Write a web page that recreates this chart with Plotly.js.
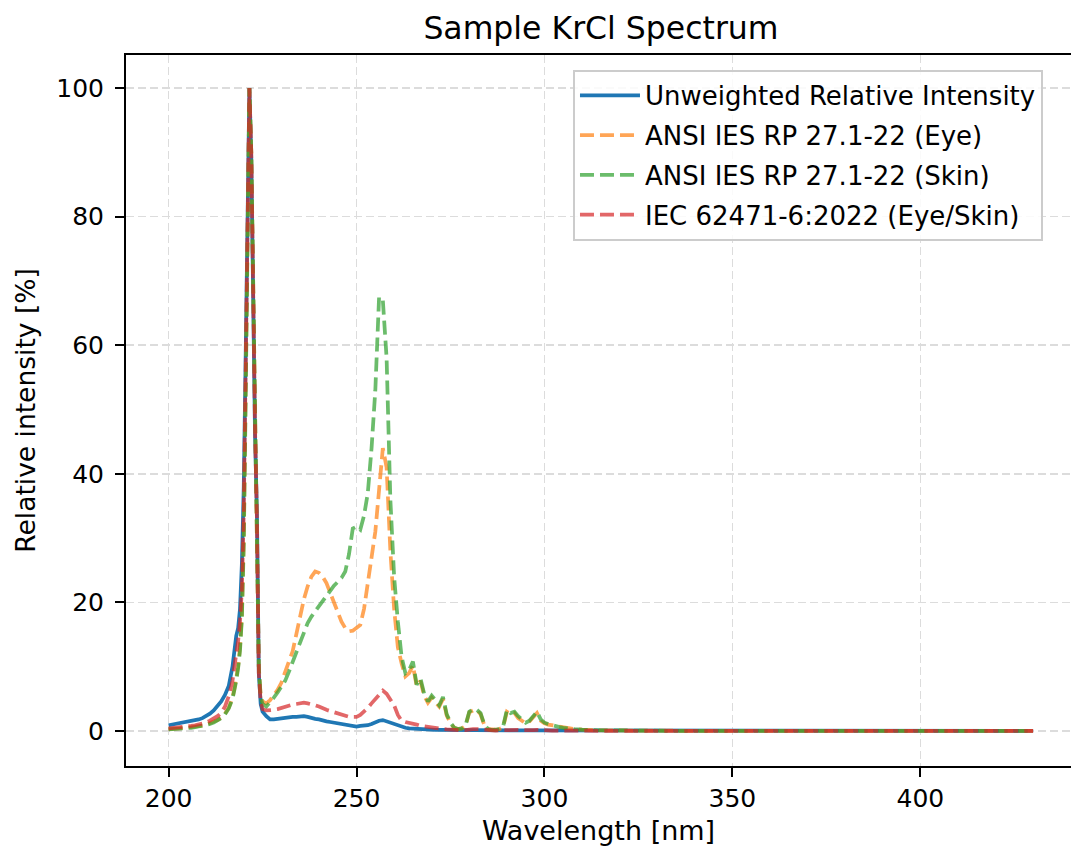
<!DOCTYPE html>
<html><head><meta charset="utf-8">
<script src="https://cdn.plot.ly/plotly-3.0.1.min.js"></script>
<style>html,body{margin:0;padding:0;background:#fff;} #chart{width:1071px;height:846px;}</style>
</head><body><div id="chart"></div>
<script>
// Wavelength grid [nm]
const wavelength = [
 200,201,202,203,204,205,206,207,208,209,210,211,212,213,214,215,216,217,
 217.5,218,218.5,219,219.5,220,220.5,221,221.5,222,222.5,223,223.5,224,224.5,225,
 226,227,228,229,230,231,232,233,234,235,
 236,237,238,239,240,241,242,243,244,245,
 246,247,248,249,250,251,252,253,254,255,
 256,257,258,259,260,261,262,263,264,265,
 266,267,268,269,270,271,272,273,274,275,
 276,277,278,279,280,281,282,283,284,285,
 286,287,288,289,290,291,292,293,294,295,
 296,297,298,299,300,301,302,303,304,305,
 306,307,308,309,310,
 315,320,325,330,335,340,345,350,355,360,365,370,375,380,385,390,395,400,405,410,415,420,425,430
];

const unweighted = [
 0.9,1.0,1.1,1.2,1.3,1.4,1.5,1.6,1.8,2.0,2.3,2.7,3.2,3.8,4.6,5.6,7.0,10.0,
 13.0,14.8,16.0,19.0,26.0,38,58,84,100,89,66,46,34,9,4.2,3.0,
 2.3,1.8,1.8,1.9,2.0,2.0,2.1,2.2,2.2,2.3,
 2.3,2.2,2.0,1.9,1.8,1.6,1.5,1.4,1.3,1.1,
 1.0,0.9,0.8,0.8,0.7,0.8,0.8,0.9,1.1,1.4,
 1.6,1.7,1.5,1.2,1.0,0.8,0.6,0.5,0.4,0.35,
 0.3,0.3,0.25,0.2,0.2,0.18,0.17,0.16,0.15,0.15,
 0.14,0.13,0.13,0.12,0.13,0.14,0.13,0.12,0.11,0.1,
 0.1,0.1,0.1,0.1,0.12,0.12,0.11,0.1,0.1,0.1,
 0.1,0.1,0.11,0.1,0.1,0.09,0.09,0.08,0.08,0.08,
 0.07,0.07,0.07,0.06,0.06,
 0.06,0.05,0.05,0.05,0.04,0.04,0.04,0.04,0.03,0.03,0.03,0.03,0.03,0.03,0.02,0.02,0.02,0.02,0.02,0.02,0.02,0.02,0.02,0.02
];

const ansiEye = [
 0.3,0.3,0.35,0.4,0.45,0.5,0.55,0.65,0.75,0.85,1.0,1.2,1.4,1.7,2.1,2.7,3.6,5.2,
 6.5,8.0,10,13,18,30,52,82,100,90,68,48,34,10,5.5,4.6,
 4.3,4.8,5.6,6.4,7.5,9.0,10.8,12.4,15.0,18.0,
 20.5,22.5,24.0,24.8,24.6,24.0,23.0,21.5,20.0,18.5,
 17.0,16.0,15.5,15.6,16.0,16.5,19.0,23.0,27.5,31.0,
 37.5,44.0,41.0,28.0,19.0,13.0,10.5,8.5,9.0,10.2,
 7.0,7.8,5.5,4.4,5.2,4.6,3.8,5.0,2.4,1.2,
 0.5,0.3,0.4,0.8,2.9,3.2,3.3,2.6,0.9,0.3,
 0.2,0.2,0.3,0.6,3.0,2.6,2.8,2.0,1.6,1.2,
 1.5,2.2,2.8,1.6,1.2,1.0,0.9,0.7,0.6,0.5,
 0.4,0.35,0.3,0.25,0.2,
 0.1,0.06,0.04,0.03,0.02,0.02,0.01,0.01,0.01,0.01,0.01,0.01,0.01,0.01,0.01,0.01,0.01,0.01,0.01,0.01,0.01,0.01,0.01,0.01
];

const ansiSkin = [
 0.25,0.28,0.3,0.35,0.4,0.45,0.5,0.6,0.7,0.8,0.9,1.1,1.3,1.6,2.0,2.6,3.5,5.0,
 6.3,7.8,9.8,12.5,17.5,29,51,81,100,90,68,48,34,10,5.2,4.2,
 3.8,4.4,5.2,6.0,6.8,7.8,9.2,10.8,12.4,14.0,
 15.5,16.8,17.8,18.6,19.5,20.3,21.2,22.0,22.6,23.2,
 23.8,24.8,27.5,31.5,31.8,31.3,33.5,37,44,53,
 67.5,67.0,58,36,24,17,11.5,9.0,9.5,10.8,
 7.2,8.2,5.8,4.6,5.5,4.8,4.0,5.3,2.6,1.3,
 0.5,0.3,0.4,0.9,3.0,3.4,3.3,2.8,1.0,0.3,
 0.15,0.2,0.3,0.7,3.3,2.8,3.0,2.3,1.8,1.3,
 1.6,2.4,3.0,1.8,1.3,1.1,0.9,0.7,0.6,0.5,
 0.4,0.35,0.3,0.25,0.2,
 0.12,0.07,0.05,0.03,0.02,0.02,0.01,0.01,0.01,0.01,0.01,0.01,0.01,0.01,0.01,0.01,0.01,0.01,0.01,0.01,0.01,0.01,0.01,0.01
];

const iecEyeSkin = [
 0.4,0.45,0.5,0.55,0.6,0.7,0.8,0.9,1.0,1.1,1.3,1.6,1.9,2.3,2.8,3.8,5.4,7.8,
 10,12,14,17,22,34,55,83,100,90,67,47,33,9,4.5,3.4,
 3.2,3.2,3.3,3.4,3.6,3.8,4.0,4.1,4.2,4.3,
 4.4,4.3,4.2,4.0,3.8,3.5,3.3,3.1,2.9,2.7,
 2.5,2.3,2.2,2.2,2.2,2.5,3.0,3.6,4.3,5.0,
 5.8,6.3,5.8,5.0,4.0,2.5,1.6,1.4,1.3,1.1,
 1.0,0.8,0.7,0.6,0.5,0.4,0.35,0.3,0.25,0.2,
 0.15,0.12,0.12,0.15,0.25,0.3,0.3,0.25,0.15,0.1,
 0.08,0.08,0.1,0.12,0.25,0.22,0.22,0.18,0.15,0.12,
 0.12,0.15,0.18,0.12,0.1,0.08,0.07,0.06,0.05,0.05,
 0.04,0.04,0.03,0.03,0.03,
 0.02,0.02,0.02,0.01,0.01,0.01,0.01,0.01,0.01,0.01,0.01,0.01,0.01,0.01,0.01,0.01,0.01,0.01,0.01,0.01,0.01,0.01,0.01,0.01
];

const seriesNames = [
 'Unweighted Relative Intensity',
 'ANSI IES RP 27.1-22 (Eye)',
 'ANSI IES RP 27.1-22 (Skin)',
 'IEC 62471-6:2022 (Eye/Skin)'
];
const xTicks = [200, 250, 300, 350, 400];
const yTicks = [0, 20, 40, 60, 80, 100];

const dashStyle = '14px,6px';
const traces = [
 {x: wavelength, y: unweighted, name: seriesNames[0], type: 'scatter', mode: 'lines',
  line: {color: '#1f77b4', width: 3.75}, legendgroup: 'g1'},
 {x: wavelength, y: ansiEye, name: seriesNames[1], type: 'scatter', mode: 'lines', opacity: 0.7,
  line: {color: '#ff7f0e', width: 3.75, dash: dashStyle}, legendgroup: 'g2'},
 {x: wavelength, y: ansiSkin, name: seriesNames[2], type: 'scatter', mode: 'lines', opacity: 0.7,
  line: {color: '#2ca02c', width: 3.75, dash: dashStyle}, legendgroup: 'g3'},
 {x: wavelength, y: iecEyeSkin, name: seriesNames[3], type: 'scatter', mode: 'lines', opacity: 0.7,
  line: {color: '#d62728', width: 3.75, dash: dashStyle}, legendgroup: 'g4'}
];

const axisCommon = {
 ticks: 'outside', ticklen: 9, tickwidth: 2, tickcolor: '#000',
 showline: true, linecolor: '#000', linewidth: 2,
 showgrid: true, gridcolor: '#dcdcdc', gridwidth: 1.5, griddash: '8px,4px',
 zeroline: false, automargin: false,
 tickfont: {size: 25, color: '#000'}
};

const layout = {
 width: 1071, height: 846,
 margin: {l: 126, r: 0, t: 55, b: 80},
 paper_bgcolor: '#fff', plot_bgcolor: '#fff',
 font: {family: 'DejaVu Sans', size: 25, color: '#000'},
 title: {text: 'Sample KrCl Spectrum', font: {size: 31.5, color: '#000'},
  x: 0.5026, xref: 'paper', xanchor: 'center', y: 1 - 28/846, yref: 'container', yanchor: 'middle'},
 xaxis: Object.assign({}, axisCommon, {
  range: [188.67, 440.08], tickvals: xTicks, mirror: true,
  title: {text: 'Wavelength [nm]', standoff: 11, font: {size: 27, color: '#000'}}
 }),
 yaxis: Object.assign({}, axisCommon, {
  range: [-5.44, 105.13], tickvals: yTicks, mirror: false, ticklabelstandoff: 6,
  title: {text: 'Relative intensity [%]', standoff: 13, font: {size: 26.5, color: '#000'}}
 }),
 showlegend: true,
 legend: {x: 0.473, y: 0.979, xanchor: 'left', yanchor: 'top',
  bgcolor: 'rgba(255,255,255,0.85)', bordercolor: '#cccccc', borderwidth: 2,
  font: {size: 26, color: '#000'}, tracegroupgap: 3, traceorder: 'grouped', itemwidth: 60}
};

Plotly.newPlot('chart', traces, layout, {displayModeBar: false, staticPlot: true});
</script>
</body></html>
